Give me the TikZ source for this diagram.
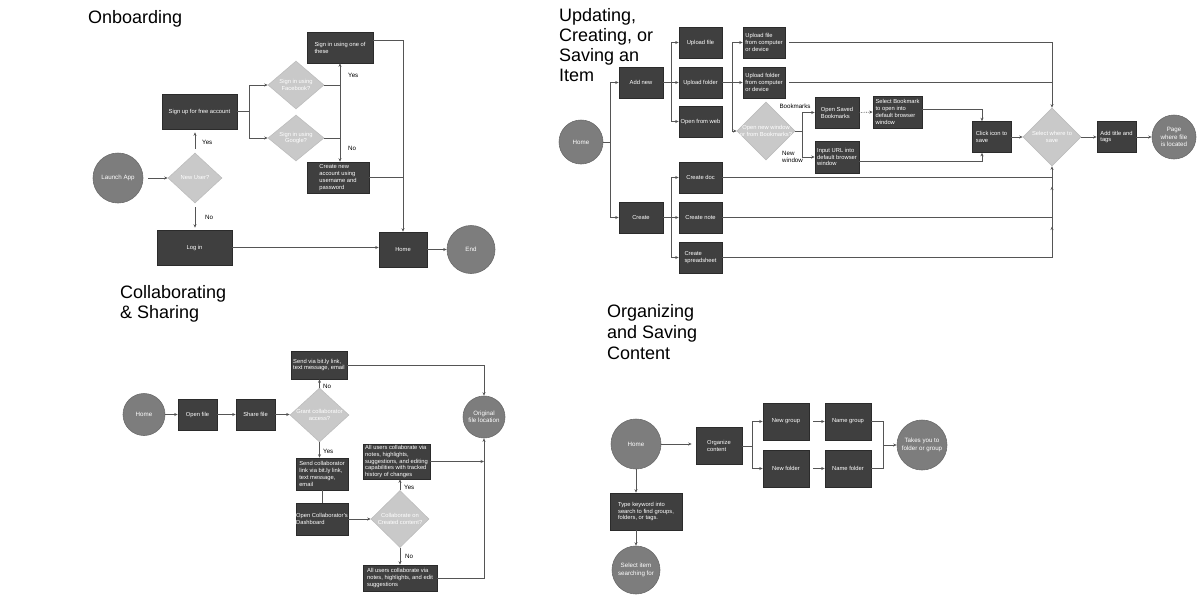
\documentclass[tikz,border=0pt]{standalone}
\usepackage{fontspec}
\setmainfont{Liberation Sans}
\usetikzlibrary{arrows.meta,shapes.geometric}
\definecolor{bfill}{HTML}{3F3F3F}
\definecolor{bedge}{HTML}{2B2B2B}
\definecolor{cfill}{HTML}{7D7D7D}
\definecolor{cedge}{HTML}{6A6A6A}
\definecolor{dfill}{HTML}{C9C9C9}
\definecolor{dedge}{HTML}{BDBDBD}
\definecolor{lcol}{HTML}{555555}
\newcommand\boxfont{\fontsize{5.8}{6.9}\selectfont}
\begin{document}
\begin{tikzpicture}[x=1pt,y=-1pt,
  dbox/.style={rectangle, draw=bedge, fill=bfill, text=white, font=\boxfont, inner xsep=1pt, inner ysep=1pt, line width=0.6pt},
  lbox/.style={dbox, align=left},
  cbox/.style={dbox, align=center},
  circ/.style={circle, draw=cedge, fill=cfill, text=white, font=\fontsize{6.2}{7.4}\selectfont, align=center, inner sep=0pt, line width=0.6pt},
  dia/.style={diamond, draw=dedge, fill=dfill, inner sep=0pt, line width=0.6pt},
  dtext/.style={text=white, font=\boxfont, align=center, inner sep=0pt},
  conn/.style={draw=lcol, line width=0.7pt, -{Stealth[length=3.5pt,width=3pt]}},
  wire/.style={draw=lcol, line width=0.7pt},
  lab/.style={font=\fontsize{6.2}{7.2}\selectfont, text=black, inner sep=0pt},
  ttl/.style={font=\fontsize{18}{20}\selectfont, anchor=base west, inner sep=0pt, text=black}
]
\useasboundingbox (0,0) rectangle (1200,600);

% ---------- titles
\node[ttl] (t1) at (88,23) {Onboarding};
\node[ttl] (t2) at (559,21) {Updating,};
\node[ttl] (t3) at (559,41) {Creating, or};
\node[ttl] (t4) at (559,61) {Saving an};
\node[ttl] (t5) at (559,81) {Item};
\node[ttl] (t6) at (120,298) {Collaborating};
\node[ttl] (t7) at (120,318) {\& Sharing};
\node[ttl] (t8) at (607,317) {Organizing};
\node[ttl] (t9) at (607,338) {and Saving};
\node[ttl] (t10) at (607,359) {Content};

% ---------- Onboarding
\node[circ, minimum size=50] (launch) at (118,178) {Launch App};
\node[dia, minimum width=54, minimum height=50, label={[dtext]center:{New User?}}] (newuser) at (195,178) {};
\node[cbox, minimum width=75, minimum height=35] (signup) at (199.5,111.5) {Sign up for free account};
\node[cbox, minimum width=75, minimum height=35] (login) at (194.5,247.5) {Log in};
\node[cbox, minimum width=48, minimum height=35] (home1) at (403,249.5) {Home};
\node[circ, minimum size=48] (end) at (471,249.5) {End};
\node[dia, minimum width=56, minimum height=48, label={[dtext]center:{Sign in using\\Facebook?}}] (fb) at (296,85) {};
\node[dia, minimum width=56, minimum height=46, label={[dtext]center:{Sign in using\\Google?}}] (gg) at (296,138) {};
\node[lbox, minimum width=66, minimum height=31] (signin) at (340,47.5) {Sign in using one of\\these};
\node[lbox, minimum width=62, minimum height=31] (create) at (338,177.5) {Create new\\account using\\username and\\password};

\draw[conn, shorten <=5pt] (launch.east) -- (newuser.west);
\draw[conn, shorten <=4pt, shorten >=3pt] (newuser.north) -- (newuser.north |- signup.south);
\node[lab, anchor=west] (yes1) at (202,142) {Yes};
\draw[conn, shorten <=4pt, shorten >=2pt] (newuser.south) -- (newuser.south |- login.north);
\node[lab, anchor=west] (no1) at (205,217) {No};
\draw[conn] (signup.east) -- ++(12,0) coordinate (j1) |- (fb.west);
\draw[conn] (j1) |- (gg.west);
\draw[conn] (fb.east) -| (signin.south);
\draw[wire] (fb.east -| signin.south) -- (gg.east -| signin.south);
\draw[conn] (gg.east) -| (create.north -| signin.south);
\node[lab, anchor=west] (yes2) at (348,75) {Yes};
\node[lab, anchor=west] (no2) at (348,148) {No};
\draw[conn] ([yshift=7pt]signin.east) -| (home1.north);
\draw[wire] (create.east) -- (create.east -| home1.north);
\draw[conn] (login.east) -- (login.east -| home1.west);
\draw[conn] (home1.east) -- (end.west);

% ---------- Updating, Creating, or Saving an Item
\node[circ, minimum size=44] (home2) at (581,142) {Home};
\node[cbox, minimum width=44, minimum height=31] (addnew) at (641,82.5) {Add new};
\node[cbox, minimum width=44, minimum height=31] (createb) at (641,217.5) {Create};
\node[cbox, minimum width=43, minimum height=31] (upfile) at (700.5,42.5) {Upload file};
\node[cbox, minimum width=43, minimum height=31] (upfolder) at (700.5,82.5) {Upload folder};
\node[cbox, minimum width=43, minimum height=31] (openweb) at (700.5,121.5) {Open from web};
\node[cbox, minimum width=43, minimum height=31] (cdoc) at (700.5,177.5) {Create doc};
\node[cbox, minimum width=43, minimum height=31] (cnote) at (700.5,217.5) {Create note};
\node[lbox, minimum width=43, minimum height=31] (csheet) at (700.5,257.5) {Create\\spreadsheet};
\node[lbox, minimum width=42, minimum height=31] (ufc) at (764,42.5) {Upload file\\from computer\\or device};
\node[lbox, minimum width=42, minimum height=31] (ufoc) at (764,82.5) {Upload folder\\from computer\\or device};
\node[dia, minimum width=58, minimum height=58, label={[dtext]center:{Open new window\\or from Bookmarks?}}] (openwin) at (766,131) {};
\node[lbox, minimum width=44, minimum height=31] (osb) at (837,112.5) {Open Saved\\Bookmarks};
\node[lbox, minimum width=44, minimum height=32] (iurl) at (837,157) {Input URL into\\default browser\\window};
\node[lbox, minimum width=49, minimum height=32] (selbm) at (897.5,112) {Select Bookmark\\to open into\\default browser\\window};
\node[lbox, minimum width=39, minimum height=31] (click) at (991.5,137) {Click icon to\\save};
\node[dia, minimum width=58, minimum height=58, label={[dtext]center:{Select where to\\save}}] (sws) at (1052,137) {};
\node[lbox, minimum width=39, minimum height=31] (addtitle) at (1116.5,137) {Add title and\\tags};
\node[circ, minimum size=44] (page) at (1174,137) {Page\\where file\\is located};

\draw[conn] (home2.east) -- ++(7,0) coordinate (j2) |- (addnew.west);
\draw[conn] (j2) |- (createb.west);
\draw[conn] (addnew.east) -- ++(8,0) coordinate (j3) |- (upfile.west);
\draw[conn] (j3) -- (upfolder.west);
\draw[conn] (j3) |- (openweb.west);
\draw[conn] (createb.east) -- ++(8,0) coordinate (j4) |- (cdoc.west);
\draw[conn] (j4) -- (cnote.west);
\draw[conn] (j4) |- (csheet.west);
\draw[conn] (upfolder.east) -- ++(10,0) coordinate (j5) |- (ufc.west);
\draw[conn] (j5) -- (ufoc.west);
\draw[conn] (j5) |- (openwin.west);
\draw[conn, shorten <=4pt] (ufc.east) -| (sws.north);
\draw[wire, shorten <=4pt] (ufoc.east) -- (ufoc.east -| sws.north);
\draw[conn] (openwin.east) -- ++(7,0) coordinate (j6) |- (osb.west);
\draw[conn] (j6) |- (iurl.west);
\node[lab] (bmk) at (795,106) {Bookmarks};
\node[lab, align=left, anchor=west] (nwin) at (782,157) {New\\window};
\draw[conn, densely dotted] (osb.east) -- (selbm.west);
\draw[conn] ([yshift=2.5pt]selbm.east) -| ([xshift=-9.5pt]click.north);
\draw[conn] ([yshift=-4pt]iurl.east) -| ([xshift=-9.5pt]click.south);
\draw[conn] (click.east) -- (sws.west);
\draw[conn] (sws.east) -- (addtitle.west);
\draw[conn] (addtitle.east) -- (page.west);
\coordinate (jd) at (cdoc.east -| sws.south);
\coordinate (jn) at (cnote.east -| sws.south);
\coordinate (js) at (csheet.east -| sws.south);
\draw[wire] (cdoc.east) -- (jd);
\draw[wire] (cnote.east) -- (jn);
\draw[wire] (csheet.east) -- (js);
\draw[conn] (js) -- (sws.south);
\draw[conn] (js) -- ([yshift=-9pt]jn);
\draw[conn] (jn) -- ([yshift=-9pt]jd);

% ---------- Collaborating & Sharing
\node[circ, minimum size=42] (home3) at (144,414.5) {Home};
\node[cbox, minimum width=39, minimum height=31] (openfile) at (197.5,414.5) {Open file};
\node[cbox, minimum width=39, minimum height=31] (sharefile) at (255.5,414.5) {Share file};
\node[dia, minimum width=59, minimum height=54, label={[dtext]center:{Grant collaborator\\access?}}] (grant) at (319.5,415) {};
\node[lbox, minimum width=56, minimum height=28] (sendvia) at (319,365) {Send via bit.ly link,\\text message, email};
\node[lbox, minimum width=52, minimum height=32] (sendcollab) at (322,474) {Send collaborator\\link via bit.ly link,\\text message,\\email};
\node[lbox, minimum width=52, minimum height=32, inner xsep=0pt] (dash) at (322,519) {Open Collaborator's\\Dashboard};
\node[dia, minimum width=58, minimum height=57, label={[dtext]center:{Collaborate on\\Created content?}}] (collab) at (400,519) {};
\node[lbox, minimum width=67, minimum height=35] (all1) at (396.5,461.5) {All users collaborate via\\notes, highlights,\\suggestions, and editing\\capabilities with tracked\\history of changes};
\node[lbox, minimum width=74, minimum height=26] (all2) at (400,578) {All users collaborate via\\notes, highlights, and edit\\suggestions};
\node[circ, minimum size=42] (orig) at (484,417) {Original\\file location};

\draw[conn] (home3.east) -- (openfile.west);
\draw[conn] (openfile.east) -- (sharefile.west);
\draw[conn] (sharefile.east) -- (sharefile.east -| grant.west);
\draw[conn] (grant.north) -- (grant.north |- sendvia.south);
\node[lab, anchor=west] (no3) at (323,386) {No};
\draw[conn] (grant.south) -- (grant.south |- sendcollab.north);
\node[lab, anchor=west] (yes3) at (323,451) {Yes};
\draw[wire] (sendcollab.south) -- (dash.north);
\draw[conn] (dash.east) -- (collab.west);
\draw[conn] (collab.north) -- (collab.north |- all1.south);
\node[lab, anchor=west] (yes4) at (404,487) {Yes};
\draw[conn] (collab.south) -- (collab.south |- all2.north);
\node[lab, anchor=west] (no4) at (405,556) {No};
\draw[conn] (sendvia.east) -| (orig.north);
\draw[conn] (all2.east) -| (orig.south);
\draw[conn] (all1.east) -- (all1.east -| orig.south);

% ---------- Organizing and Saving Content
\node[circ, minimum size=50] (home4) at (636,444) {Home};
\node[lbox, minimum width=46, minimum height=37] (org) at (719,446) {Organize\\content};
\node[cbox, minimum width=46, minimum height=37] (ngroup) at (786,421.5) {New group};
\node[cbox, minimum width=46, minimum height=37] (nfolder) at (786,468.5) {New folder};
\node[cbox, minimum width=46, minimum height=37] (nmgroup) at (848,421.5) {Name group};
\node[cbox, minimum width=46, minimum height=37] (nmfolder) at (848,468.5) {Name folder};
\node[circ, minimum size=50] (takes) at (922,445) {Takes you to\\folder or group};
\node[lbox, minimum width=72, minimum height=37] (typekw) at (646,511.5) {Type keyword into\\search to find groups,\\folders, or tags.};
\node[circ, minimum size=48] (selitem) at (636,570) {Select item\\searching for};

\draw[conn, shorten >=4pt] (home4.east) -- (home4.east -| org.west);
\draw[conn] (org.east) -- ++(10,0) coordinate (j7) |- (ngroup.west);
\draw[conn] (j7) |- (nfolder.west);
\draw[conn, shorten <=4pt] (ngroup.east) -- (nmgroup.west);
\draw[conn, shorten <=4pt] (nfolder.east) -- (nmfolder.west);
\coordinate (j8) at (883,445);
\draw[wire] (nmgroup.east) -| (j8);
\draw[wire] (nmfolder.east) -| (j8);
\draw[conn] (j8) -- (takes.west);
\draw[conn] (home4.south) -- (home4.south |- typekw.north);
\draw[conn] (selitem.north |- typekw.south) -- (selitem.north);
\end{tikzpicture}
\end{document}
